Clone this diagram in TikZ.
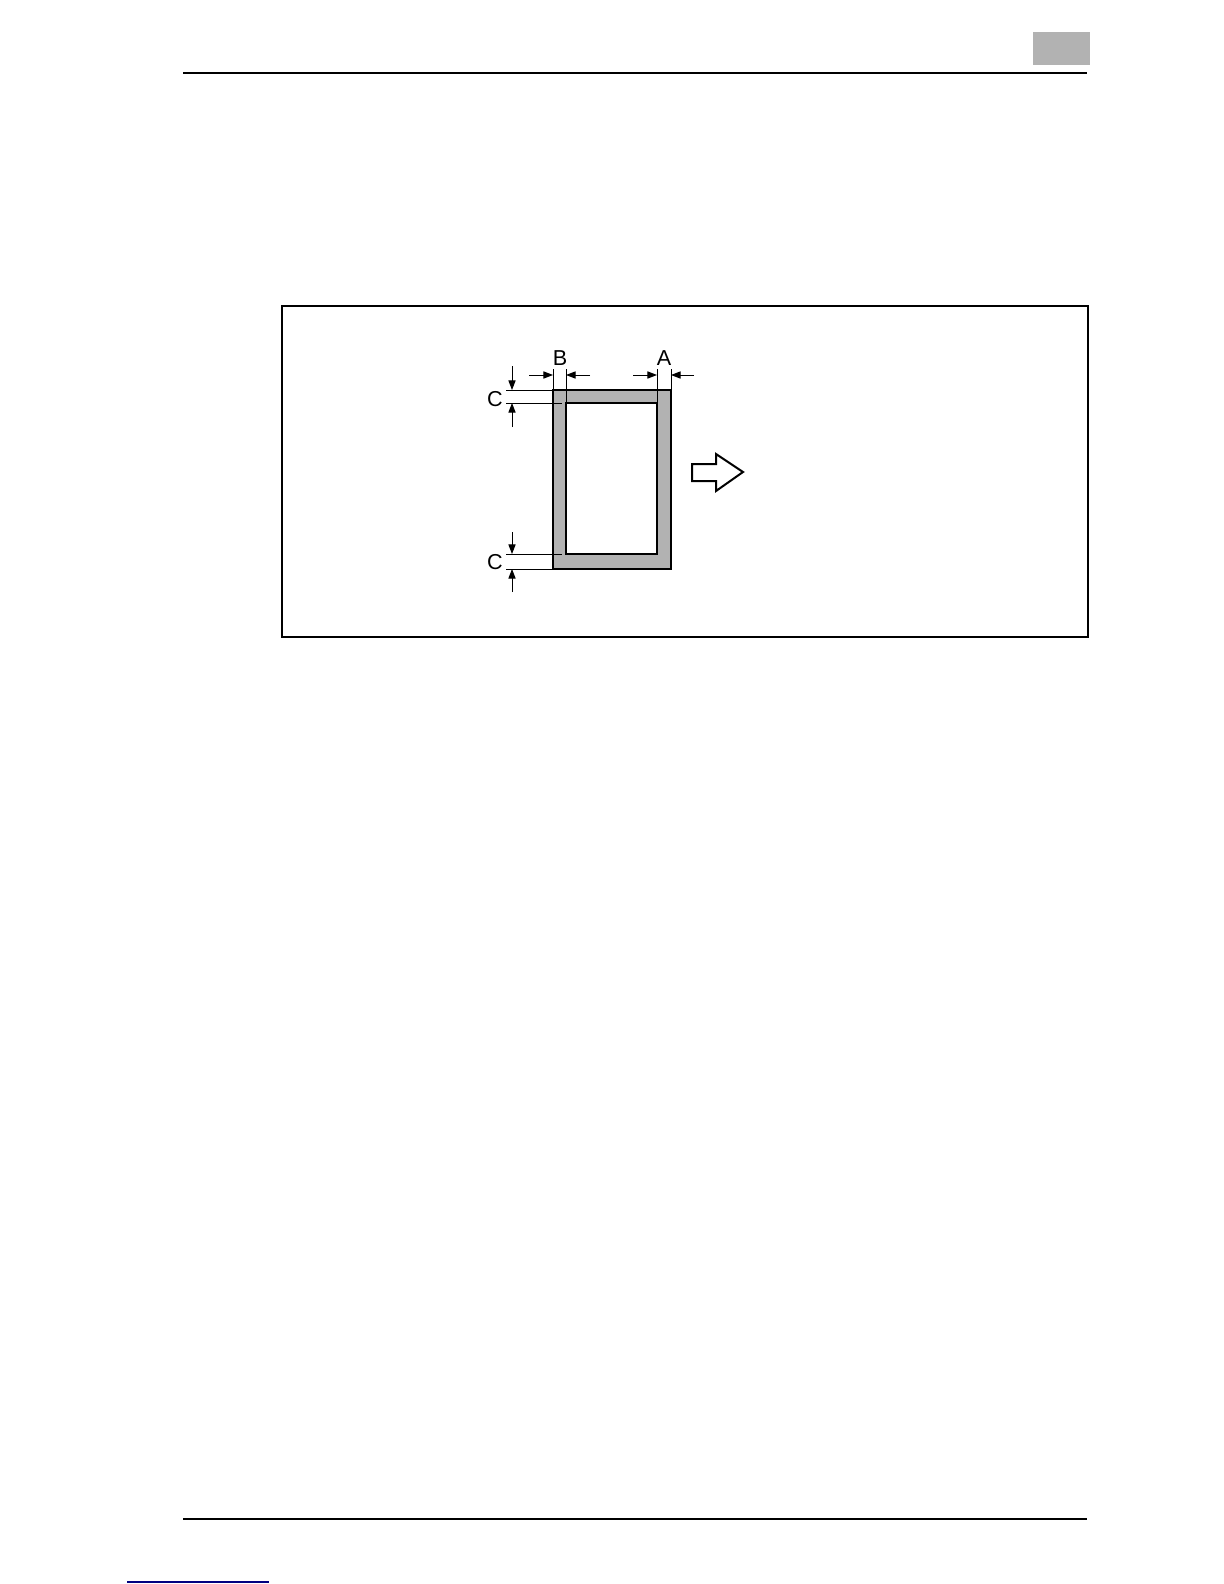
\documentclass[tikz,border=0pt]{standalone}
\usepackage{fontspec}
\setmainfont{Liberation Sans}
\usetikzlibrary{arrows.meta}

\tikzset{
  dimline/.style={line width=0.5pt},
  dimarrow/.style={line width=0.5pt,-{Triangle[length=4.8pt,width=3.6pt]}},
  dimlabel/.style={font=\fontsize{10.8}{12}\selectfont,inner sep=0pt},
  pagerule/.style={line width=1pt},
  paperedge/.style={line width=1.3pt},
}

\begin{document}
\begin{tikzpicture}[x=0.5pt,y=-0.5pt]
    \useasboundingbox (0,0) rectangle (1224,1584);
    % page head and foot
    \fill[black!30] (1033,32) rectangle (1090,65);
    \draw[pagerule] (183,73) -- (1087,73);
    \draw[pagerule] (183,1519) -- (1087,1519);
    \draw[blue!50!black,line width=0.6pt] (127,1582) -- (269,1582);
    % frame
    \draw[line width=0.8pt] (282,306) rectangle (1088,637);
    % paper with margins
    \coordinate (oTL) at (553,390);
    \coordinate (oTR) at (671,390);
    \coordinate (oBL) at (553,569);
    \coordinate (iTL) at (566,403);
    \coordinate (iTR) at (657,403);
    \coordinate (iBL) at (566,554);
    \draw[paperedge,fill=black!30] (oTL) rectangle (671,569);
    \draw[paperedge,fill=white] (iTL) rectangle (657,554);
    % B
    \node[dimlabel] (labB) at (560,358) {B};
    \draw[dimline] (553,369) -- (oTL);
    \draw[dimline] (566,369) -- (iTL);
    \draw[dimarrow] (529,375) -- (553,375);
    \draw[dimarrow] (590,375) -- (566,375);
    % A
    \node[dimlabel] (labA) at (664,358) {A};
    \draw[dimline] (657,369) -- (iTR);
    \draw[dimline] (671,369) -- (oTR);
    \draw[dimarrow] (633,375) -- (657,375);
    \draw[dimarrow] (694,375) -- (671,375);
    % C top
    \node[dimlabel] (labCt) at (495,399) {C};
    \draw[dimline] (506,390) -- (oTL);
    \draw[dimline] (506,403) -- (562,403);
    \draw[dimarrow] (512,366) -- (512,390);
    \draw[dimarrow] (512,427) -- (512,403);
    % C bottom
    \node[dimlabel] (labCb) at (495,562) {C};
    \draw[dimline] (506,554) -- (562,554);
    \draw[dimline] (506,569) -- (oBL);
    \draw[dimarrow] (512,532) -- (512,554);
    \draw[dimarrow] (512,592) -- (512,569);
    % feed direction
    \draw[line width=1pt,line join=miter] (692,464) -- (716,464) -- (716,454) -- (743,472)
        -- (716,491) -- (716,481) -- (692,481) -- cycle;
\end{tikzpicture}
\end{document}
